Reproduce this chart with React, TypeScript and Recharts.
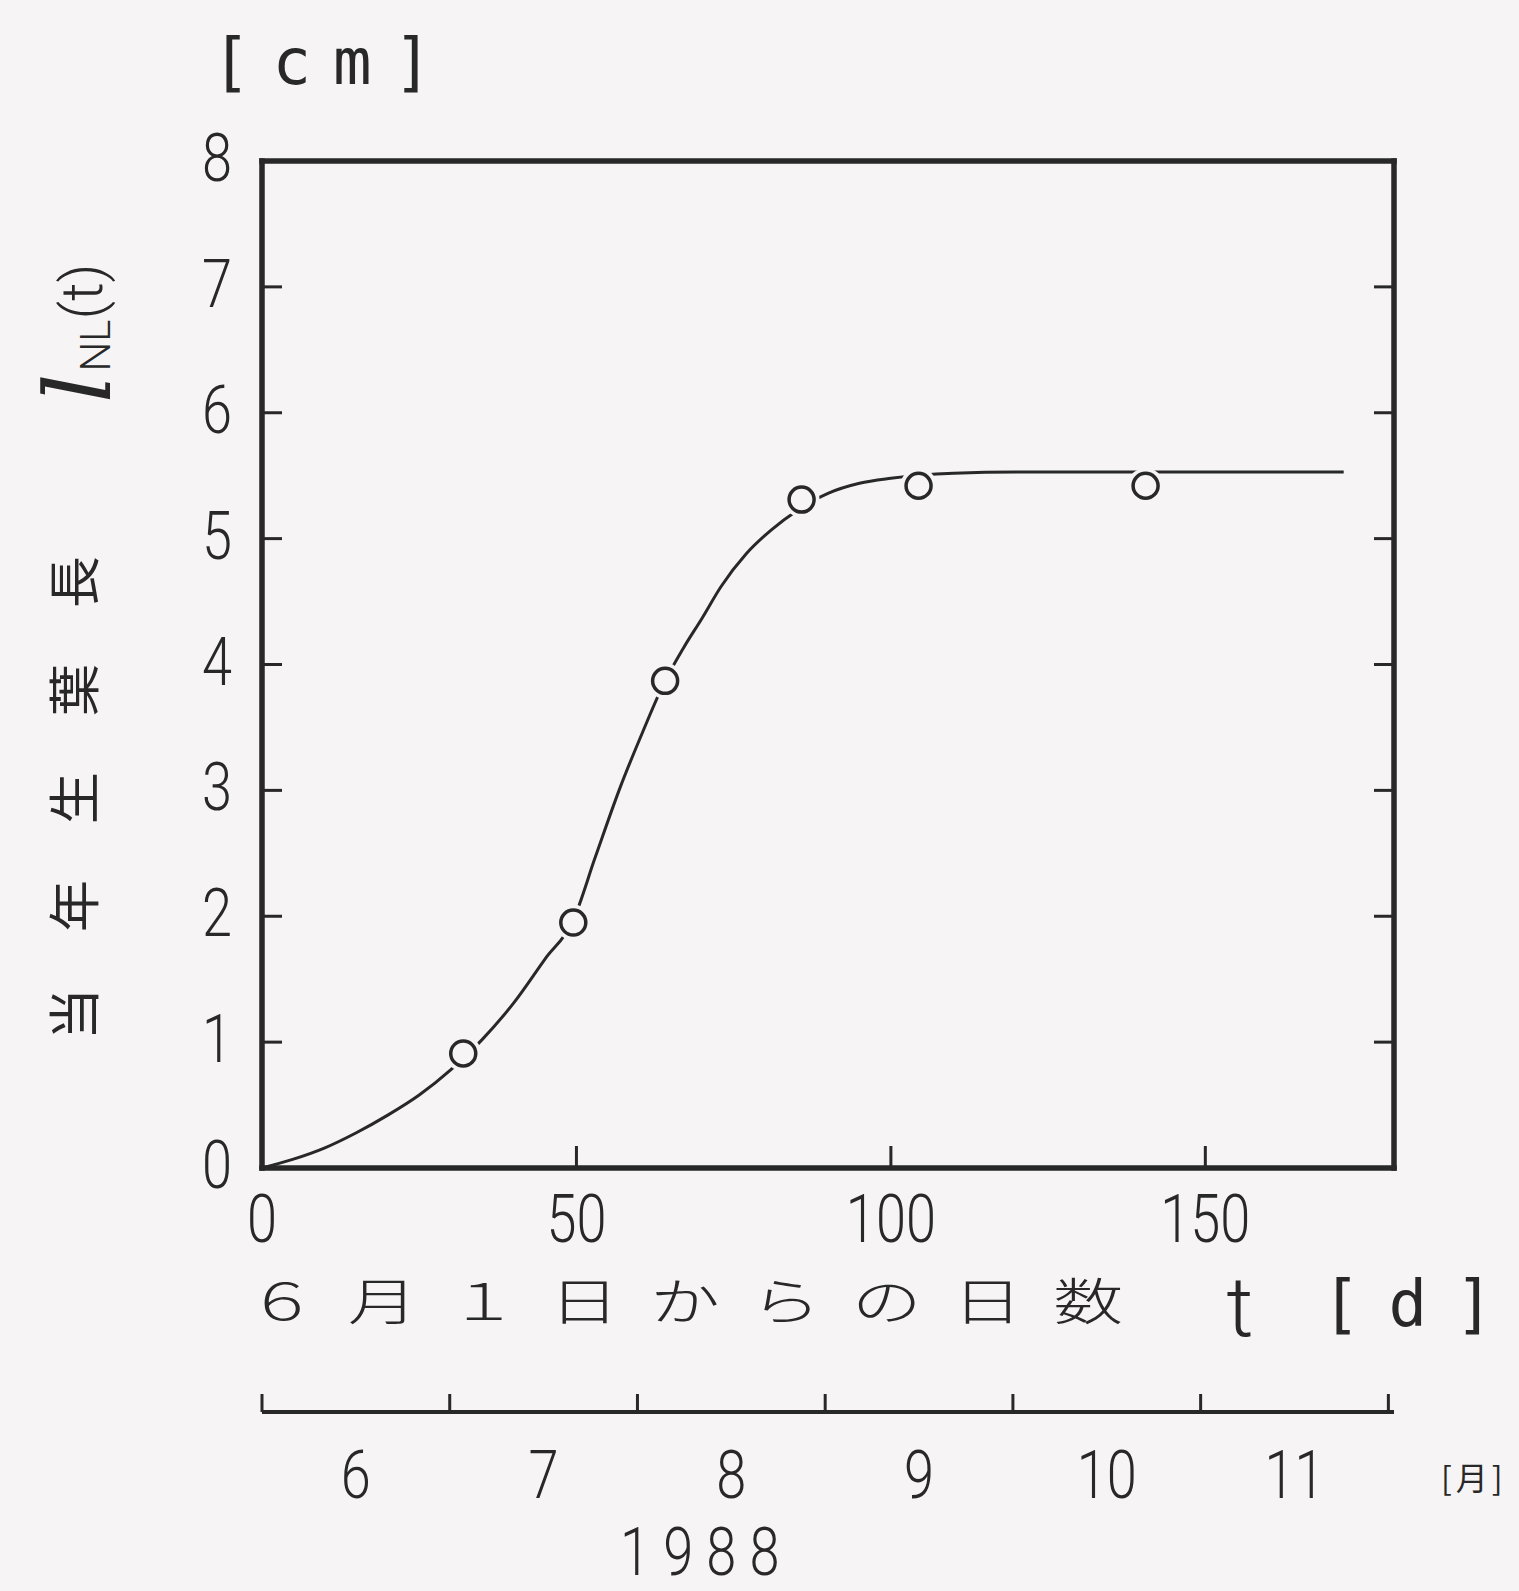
import React from "react";
import { ComposedChart, Line, Scatter, XAxis, YAxis } from "recharts";

// fitted growth curve (days since June 1 -> leaf length cm)
const curveDays = [0, 5, 10, 15, 20, 25, 30, 35, 40, 45, 49.5, 53, 57, 60.5, 64, 67, 70, 73, 77, 81, 85, 90, 95, 100, 110, 120, 172];
const curveLen = [0, 0.07, 0.16, 0.28, 0.42, 0.58, 0.78, 1.02, 1.31, 1.66, 1.97, 2.47, 3.03, 3.46, 3.86, 4.13, 4.37, 4.62, 4.88, 5.07, 5.22, 5.36, 5.44, 5.48, 5.52, 5.53, 5.53];

// measured points (open circles)
const obsDays = [32, 49.5, 64.1, 85.8, 104.4, 140.5];
const obsLen = [0.91, 1.95, 3.87, 5.31, 5.42, 5.42];

const dayTicks = [0, 50, 100, 150];
const lenTicks = [0, 1, 2, 3, 4, 5, 6, 7, 8];
const rightTicks = [1, 2, 3, 4, 5, 6, 7];
// month scale under the plot: integer = month boundary, .5 = month label
const monthTicks = [0, 0.5, 1, 1.5, 2, 2.5, 3, 3.5, 4, 4.5, 5, 5.5, 6];
const monthLabels = ["6", "7", "8", "9", "10", "11"];

const INK = "#282828";
const BG = "#f6f4f4";
const NUM_FONT = "Roboto, 'Liberation Sans', Arial, sans-serif";
const CJK_FONT = "'Noto Sans CJK JP', 'Noto Sans CJK SC', sans-serif";
const MONO_FONT = "'DejaVu Sans Mono', 'Liberation Mono', monospace";

const curveData = curveDays.map((t, i) => ({ t, l: curveLen[i] }));
const obsData = obsDays.map((t, i) => ({ t, l: obsLen[i] }));
const monthMarks = monthTicks.map((m) => ({ m, l: 0 }));

// narrow, light digits like the original lettering
const Num = ({ x, y, anchor = "middle", size = 66, children }: any) => (
  <text
    transform={`translate(${x},${y}) scale(0.82,1)`}
    textAnchor={anchor}
    fontSize={size}
    fontFamily={NUM_FONT}
    fontWeight={300}
    fill={INK}
  >
    {children}
  </text>
);

// spaced-out letters without trailing spacing
const Spaced = ({ x, y, chars, gap, ...rest }: any) => (
  <text x={x} y={y} fill={INK} {...rest}>
    {chars.map((c: string, i: number) => (
      <tspan key={i} dx={i === 0 ? 0 : gap}>
        {c}
      </tspan>
    ))}
  </text>
);

const DayTick = (props: any) => {
  const { x, y, payload } = props;
  return (
    <g>
      {payload.value > 0 && <line x1={x} x2={x} y1={y} y2={y - 22} stroke={INK} strokeWidth={3} />}
      <Num x={x} y={y + 74}>{payload.value}</Num>
    </g>
  );
};

const LenTick = (props: any) => {
  const { x, y, payload } = props;
  const v = payload.value;
  return (
    <g>
      {v > 0 && v < 8 && <line x1={x} x2={x + 20} y1={y} y2={y} stroke={INK} strokeWidth={3} />}
      <Num x={x - 30} y={y + 20} anchor="end">{v}</Num>
    </g>
  );
};

const RightTick = (props: any) => {
  const { x, y } = props;
  return <line x1={x} x2={x - 20} y1={y} y2={y} stroke={INK} strokeWidth={3} />;
};

const MonthTick = (props: any) => {
  const { x, y, payload } = props;
  const v = payload.value;
  if (Number.isInteger(v)) {
    return <line x1={x} x2={x} y1={y} y2={y - 18} stroke={INK} strokeWidth={3} />;
  }
  return <Num x={x} y={y + 86}>{monthLabels[Math.floor(v)]}</Num>;
};

const ObsMark = (props: any) => {
  const { cx, cy } = props;
  return (
    <g>
      <circle cx={cx} cy={cy} r={18} fill={BG} />
      <circle cx={cx} cy={cy} r={12.5} fill={BG} stroke={INK} strokeWidth={3.5} />
    </g>
  );
};

const NoMark = () => <g />;

export default function App() {
  const frame = { stroke: INK, strokeWidth: 5.5, strokeLinecap: "square" as const };
  return (
    <div style={{ position: "absolute", left: 0, top: 0, width: 1519, height: 1591, background: BG, overflow: "hidden" }}>
      <ComposedChart width={1519} height={1591} margin={{ top: 160, right: 124, bottom: 59, left: 261 }}>
        <XAxis
          xAxisId="day"
          dataKey="t"
          type="number"
          domain={[0, 180]}
          ticks={dayTicks}
          interval={0}
          height={244}
          tickSize={0}
          tickMargin={0}
          tickLine={false}
          axisLine={frame}
          tick={DayTick}
          allowDataOverflow
        />
        <XAxis
          xAxisId="month"
          dataKey="m"
          type="number"
          domain={[0, 6.03]}
          ticks={monthTicks}
          interval={0}
          height={120}
          tickSize={0}
          tickMargin={0}
          tickLine={false}
          axisLine={{ stroke: INK, strokeWidth: 4 }}
          tick={MonthTick}
          allowDataOverflow
        />
        <XAxis xAxisId="top" orientation="top" type="number" domain={[0, 180]} height={1} tick={false} tickLine={false} axisLine={frame} allowDataOverflow />
        <YAxis
          yAxisId="len"
          type="number"
          domain={[0, 8]}
          ticks={lenTicks}
          interval={0}
          width={1}
          tickSize={0}
          tickMargin={0}
          tickLine={false}
          axisLine={frame}
          tick={LenTick}
          allowDataOverflow
        />
        <YAxis
          yAxisId="right"
          orientation="right"
          type="number"
          domain={[0, 8]}
          ticks={rightTicks}
          interval={0}
          width={1}
          tickSize={0}
          tickMargin={0}
          tickLine={false}
          axisLine={frame}
          tick={RightTick}
          allowDataOverflow
        />
        <Line
          xAxisId="day"
          yAxisId="len"
          data={curveData}
          dataKey="l"
          type="monotone"
          stroke={INK}
          strokeWidth={3}
          dot={false}
          activeDot={false}
          isAnimationActive={false}
        />
        <Scatter xAxisId="month" yAxisId="len" data={monthMarks} dataKey="l" shape={NoMark} isAnimationActive={false} />
        <Scatter xAxisId="day" yAxisId="right" data={obsData} dataKey="l" shape={ObsMark} isAnimationActive={false} />
      </ComposedChart>

      <svg width={1519} height={1591} style={{ position: "absolute", left: 0, top: 0, pointerEvents: "none" }}>
        <Spaced x={212} y={84} chars={["[", "c", "m", "]"]} gap={22} fontSize={64} fontFamily={MONO_FONT} />

        <text transform="translate(94, 1040) rotate(-90)" fill={INK} fontSize={52} fontFamily={CJK_FONT}>
          {["当", "年", "生", "葉", "長"].map((c, i) => (
            <tspan key={i} dx={i === 0 ? 0 : 56}>
              {c}
            </tspan>
          ))}
        </text>
        <text transform="translate(110, 403) rotate(-90)" fill={INK}>
          <tspan fontSize={92} fontFamily="'DejaVu Serif', serif" fontStyle="italic">l</tspan>
          <tspan fontSize={42} fontFamily={NUM_FONT} fontWeight={300} dx={2}>NL</tspan>
          <tspan fontSize={58} fontFamily={NUM_FONT} fontWeight={300} dy={-8}>(t)</tspan>
        </text>

        <g transform="translate(247, 1320) scale(1.4,1)">
          <Spaced
            x={0}
            y={0}
            chars={["６", "月", "１", "日", "か", "ら", "の", "日", "数"]}
            gap={22}
            fontSize={50}
            fontFamily={CJK_FONT}
            fontWeight={300}
          />
        </g>
        <text x={1240} y={1336} textAnchor="middle" fontSize={84} fontFamily={NUM_FONT} fontWeight={300} fill={INK}>
          t
        </text>
        <Spaced x={1322} y={1326} chars={["[", "d", "]"]} gap={28} fontSize={64} fontFamily={MONO_FONT} />

        <Spaced x={1441} y={1490} chars={["[", "月", "]"]} gap={4} fontSize={32} fontFamily={CJK_FONT} />
        <g transform="translate(620, 1575) scale(0.82,1)">
          <Spaced x={0} y={0} chars={["1", "9", "8", "8"]} gap={16} fontSize={66} fontFamily={NUM_FONT} fontWeight={300} />
        </g>
      </svg>
    </div>
  );
}
